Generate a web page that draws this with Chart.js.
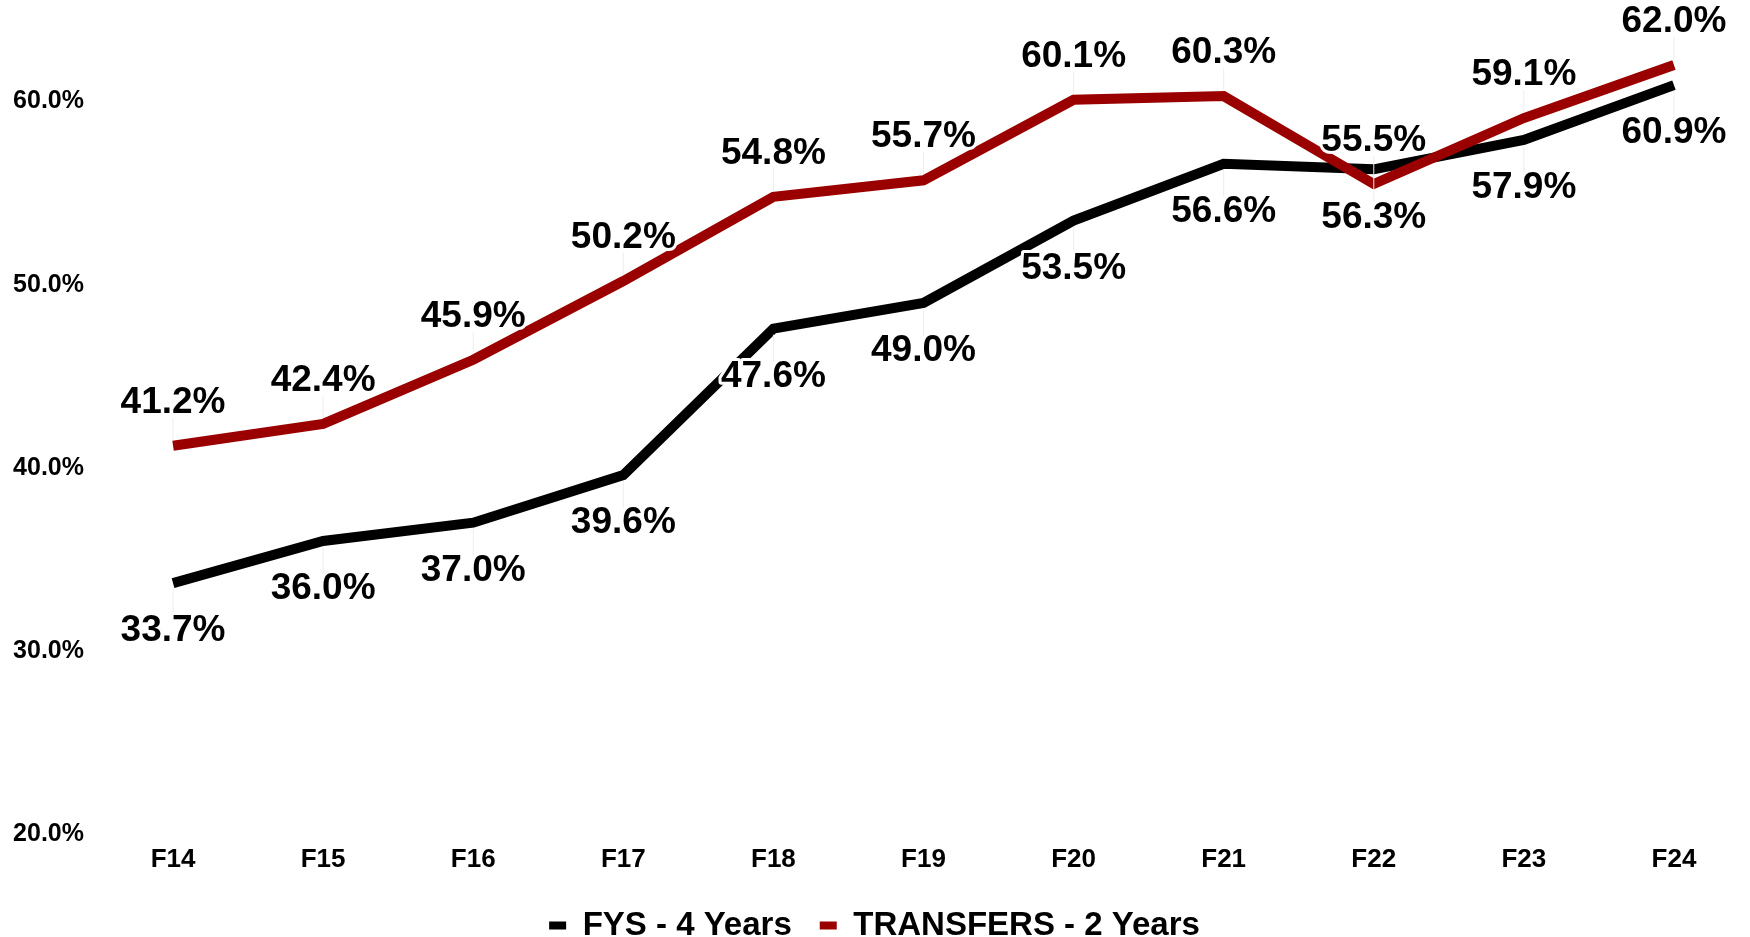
<!DOCTYPE html>
<html>
<head>
<meta charset="utf-8">
<script src="https://cdn.jsdelivr.net/npm/chart.js@4"></script>
<style>
  html, body { margin: 0; padding: 0; background: #fff; }
  canvas { display: block; }
</style>
</head>
<body>
<canvas id="myChart" width="1750" height="937"></canvas>
<script>
// Fiscal-year categories along the x axis
const categories = ["F14", "F15", "F16", "F17", "F18", "F19", "F20", "F21", "F22", "F23", "F24"];

// Rates in percent
const fysValues = [33.7, 36.0, 37.0, 39.6, 47.6, 49.0, 53.5, 56.6, 56.3, 57.9, 60.9];
const transferValues = [41.2, 42.4, 45.9, 50.2, 54.8, 55.7, 60.1, 60.3, 55.5, 59.1, 62.0];

// Tick values shown on the y axis
const yTicks = [20, 30, 40, 50, 60];

const FONT = '"Liberation Sans", Arial, sans-serif';

// Draws the value labels with a white halo: red series above, black series below
const pointLabels = {
  id: "pointLabels",
  afterDatasetsDraw(chart) {
    const ctx = chart.ctx;
    chart.data.datasets.forEach(function (ds, i) {
      const meta = chart.getDatasetMeta(i);
      const above = ds.labelSide === "above";
      meta.data.forEach(function (pt, j) {
        const text = ds.data[j].toFixed(1) + "%";
        const y = above ? pt.y - 43 : pt.y + 48;

        // faint leader line between point and label
        ctx.save();
        ctx.strokeStyle = "#ededed";
        ctx.lineWidth = 1;
        ctx.beginPath();
        ctx.moveTo(pt.x, above ? pt.y - 6 : pt.y + 6);
        ctx.lineTo(pt.x, above ? y + 15 : y - 15);
        ctx.stroke();
        ctx.restore();

        ctx.save();
        ctx.font = "bold 37px " + FONT;
        ctx.textAlign = "center";
        ctx.textBaseline = "middle";
        ctx.lineJoin = "round";
        ctx.lineWidth = 6;
        ctx.strokeStyle = "#fff";
        ctx.strokeText(text, pt.x, y);
        ctx.fillStyle = "#000";
        ctx.fillText(text, pt.x, y);
        ctx.restore();
      });
    });
  }
};

const ctx = document.getElementById("myChart").getContext("2d");

new Chart(ctx, {
  type: "line",
  data: {
    labels: categories,
    datasets: [
      {
        label: "FYS - 4 Years",
        data: fysValues,
        borderColor: "#000000",
        backgroundColor: "#000000",
        borderWidth: 10,
        pointRadius: 0,
        tension: 0,
        borderJoinStyle: "miter",
        borderCapStyle: "butt",
        labelSide: "below",
        order: 1
      },
      {
        label: "TRANSFERS - 2 Years",
        data: transferValues,
        borderColor: "#9b0000",
        backgroundColor: "#9b0000",
        borderWidth: 10,
        pointRadius: 0,
        tension: 0,
        borderJoinStyle: "miter",
        borderCapStyle: "butt",
        labelSide: "above",
        order: 0   // drawn on top of the black line
      }
    ]
  },
  options: {
    responsive: false,
    animation: false,
    layout: { padding: { left: 0, right: 1, top: 10, bottom: -15 } },
    plugins: {
      tooltip: { enabled: false },
      legend: {
        position: "bottom",
        labels: {
          generateLabels: (chart) =>
            Chart.defaults.plugins.legend.labels.generateLabels(chart).map((l) => ({ ...l, lineWidth: 0 })),
          sort: (a, b) => a.datasetIndex - b.datasetIndex,
          boxWidth: 17,
          boxHeight: 8,
          padding: 28,
          color: "#000",
          font: { family: FONT, size: 33, weight: "bold" }
        }
      }
    },
    scales: {
      x: {
        offset: true,
        grid: { display: false, drawTicks: false },
        border: { display: false },
        ticks: {
          padding: 10,
          color: "#000",
          font: { family: FONT, size: 26, weight: "bold" }
        },
        afterFit: (s) => { s.height = 47; }
      },
      y: {
        min: 20,
        max: 65,
        grid: { display: false, drawTicks: false },
        border: { display: false },
        afterBuildTicks: (s) => { s.ticks = yTicks.map((v) => ({ value: v })); },
        afterFit: (s) => { s.width = 98; s.paddingTop = 0; s.paddingBottom = 0; },
        ticks: {
          padding: 14,
          color: "#000",
          font: { family: FONT, size: 25, weight: "bold" },
          callback: (v) => Number(v).toFixed(1) + "%"
        }
      }
    }
  },
  plugins: [pointLabels]
});
</script>
</body>
</html>
